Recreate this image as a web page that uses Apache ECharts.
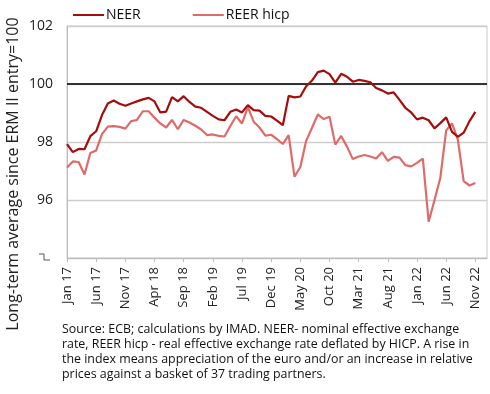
<!DOCTYPE html>
<html>
<head>
<meta charset="utf-8">
<script src="https://cdn.jsdelivr.net/npm/echarts@6/dist/echarts.min.js"></script>
<style>html,body{margin:0;padding:0;background:#fff;}#c{width:490px;height:394px;}</style>
</head>
<body>
<div id="c"></div>
<script>
const monthNames = ['Jan','Feb','Mar','Apr','May','Jun','Jul','Aug','Sep','Oct','Nov','Dec'];
const startYear = 17;
const categoryCount = 73; // Jan 17 .. Jan 23 (axis runs past the last observation)
const categories = [];
for (let i = 0; i < categoryCount; i++) {
  categories.push(monthNames[i % 12] + ' ' + (startYear + Math.floor(i / 12)));
}

const neer = [
  97.93, 97.65, 97.76, 97.75, 98.20, 98.37, 98.93, 99.33, 99.43, 99.32,
  99.25, 99.33, 99.40, 99.47, 99.52, 99.40, 99.02, 99.05, 99.55, 99.40,
  99.58, 99.38, 99.22, 99.18, 99.04, 98.90, 98.78, 98.75, 99.04, 99.12,
  99.02, 99.27, 99.10, 99.08, 98.90, 98.88, 98.74, 98.58, 99.59, 99.54,
  99.57, 99.92, 100.12, 100.41, 100.46, 100.34, 100.05, 100.35, 100.25, 100.08,
  100.14, 100.11, 100.06, 99.86, 99.78, 99.67, 99.71, 99.45, 99.18, 99.02,
  98.78, 98.84, 98.75, 98.47, 98.65, 98.85, 98.35, 98.18, 98.32, 98.72,
  99.04
];

const reerHicp = [
  97.12, 97.33, 97.31, 96.88, 97.62, 97.71, 98.27, 98.53, 98.55, 98.52,
  98.46, 98.72, 98.76, 99.06, 99.06, 98.84, 98.64, 98.50, 98.76, 98.44,
  98.76, 98.67, 98.56, 98.43, 98.24, 98.26, 98.21, 98.19, 98.55, 98.89,
  98.64, 99.20, 98.70, 98.50, 98.22, 98.25, 98.10, 97.93, 98.24, 96.80,
  97.14, 98.04, 98.49, 98.95, 98.79, 98.87, 97.91, 98.21, 97.84, 97.41,
  97.50, 97.55, 97.50, 97.43, 97.65, 97.35, 97.49, 97.46, 97.20, 97.16,
  97.28, 97.43, 95.25, 96.00, 96.77, 98.40, 98.64, 98.08, 96.65, 96.50,
  96.59
];

const yTicks = [94, 96, 98, 100, 102];
const baseline = 100;
const seriesNames = ['NEER', 'REER hicp'];
const yTitle = 'Long-term average since ERM II entry=100';
const sourceNote = 'Source: ECB; calculations by IMAD. NEER- nominal effective exchange\nrate, REER hicp - real effective exchange rate deflated by HICP. A rise in\nthe index means appreciation of the euro and/or an increase in relative\nprices against a basket of 37 trading partners.';

const FONT = '"Open Sans", "Noto Sans", sans-serif';
const chart = echarts.init(document.getElementById('c'), null, {renderer: 'canvas'});
chart.setOption({
  animation: false,
  backgroundColor: '#fff',
  textStyle: {fontFamily: FONT},
  legend: {
    data: seriesNames,
    left: 68, top: 3,
    icon: 'rect', itemWidth: 31, itemHeight: 2, itemGap: 52,
    textStyle: {fontSize: 14, color: '#111', fontFamily: FONT, padding: [0,0,0,-3]}
  },
  grid: {left: 67, right: 3, top: 26, bottom: 136, show: true, borderColor: '#c8c8c8', borderWidth: 1, containLabel: false},
  xAxis: {
    type: 'category', data: categories, boundaryGap: false,
    axisLine: {lineStyle: {color: '#bdbdbd', width: 1}},
    axisTick: {show: true, interval: 4, length: 4, lineStyle: {color: '#bdbdbd'}},
    axisLabel: {interval: 4, rotate: 90, fontSize: 13, color: '#222', margin: 9, fontFamily: FONT},
    splitLine: {show: false}
  },
  yAxis: {
    type: 'value', min: yTicks[0], max: yTicks[yTicks.length - 1], interval: 2,
    axisLine: {show: true, lineStyle: {color: '#bdbdbd'}},
    axisTick: {show: false},
    axisLabel: {fontSize: 14, color: '#222', margin: 14, fontFamily: FONT,
      formatter: v => (v === yTicks[0] ? '' : String(v))},
    splitLine: {show: true, lineStyle: {color: '#cdcdcd', width: 1.3}}
  },
  series: [
    {
      name: seriesNames[0], type: 'line', data: neer, showSymbol: false, symbol: 'none',
      lineStyle: {color: '#a50d0d', width: 2.2}, itemStyle: {color: '#a50d0d'}, z: 3,
      markLine: {silent: true, symbol: 'none', label: {show: false},
        lineStyle: {color: '#333', width: 2, type: 'solid'}, data: [{yAxis: baseline}], z: 1}
    },
    {
      name: seriesNames[1], type: 'line', data: reerHicp, showSymbol: false, symbol: 'none',
      lineStyle: {color: '#e06a6a', width: 2.2}, itemStyle: {color: '#e06a6a'}, z: 2
    }
  ],
  graphic: [
    {type: 'text', x: 13, y: 174, rotation: Math.PI / 2,
      style: {text: yTitle, fontSize: 16, fill: '#222', fontFamily: FONT, align: 'center', verticalAlign: 'middle'}},
    {type: 'polyline', shape: {points: [[39, 254], [44, 254], [44, 260], [50, 260]]},
      style: {stroke: '#555', lineWidth: 1, fill: null}},
    {type: 'text', x: 62, y: 322,
      style: {text: sourceNote, fontSize: 12.4, lineHeight: 15, fill: '#111', fontFamily: FONT}}
  ]
});
</script>
</body>
</html>
